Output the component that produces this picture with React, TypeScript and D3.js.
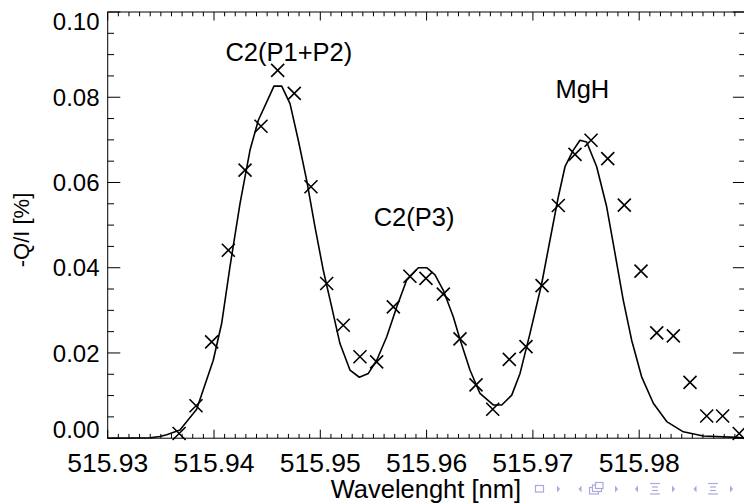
import React from "react";
import * as d3 from "d3";

// Observed data (crosses)
const obsWavelength = [
  515.93672, 515.93831, 515.93978, 515.94135, 515.94292, 515.94442, 515.94599,
  515.94755, 515.94912, 515.9506, 515.95216, 515.95373, 515.9553, 515.95687,
  515.95843, 515.95994, 515.96157, 515.96314, 515.96465, 515.96622, 515.96778,
  515.96935, 515.97086, 515.97239, 515.97396, 515.97547, 515.97704, 515.9786,
  515.98017, 515.98165, 515.98321, 515.98478, 515.98635, 515.98785, 515.98941,
];
const obsQ = [
  0.0011, 0.0076, 0.0226, 0.0441, 0.0629, 0.0732, 0.0863, 0.0809, 0.059, 0.0363,
  0.0265, 0.0191, 0.0179, 0.0308, 0.038, 0.0375, 0.0338, 0.0233, 0.0125, 0.0068,
  0.0185, 0.0215, 0.0358, 0.0546, 0.0666, 0.0699, 0.0656, 0.0547, 0.0392, 0.0247,
  0.024, 0.0131, 0.0052, 0.0052, 0.0011,
];

// Model (solid line)
const fitWavelength = [
  515.93, 515.934, 515.9349, 515.93555, 515.9368, 515.93837, 515.93993, 515.94072,
  515.9415, 515.94245, 515.94339, 515.94417, 515.94489, 515.94564, 515.94637,
  515.94715, 515.94793, 515.94872, 515.9495, 515.95028, 515.95107, 515.95185,
  515.95279, 515.95367, 515.95452, 515.95531, 515.95625, 515.95719, 515.95813,
  515.95922, 515.96001, 515.96079, 515.96157, 515.96251, 515.96314, 515.96408,
  515.96502, 515.96627, 515.96707, 515.96801, 515.96879, 515.96973, 515.97083,
  515.97161, 515.97239, 515.97302, 515.9738, 515.97443, 515.97506, 515.976,
  515.97694, 515.97772, 515.9785, 515.97929, 515.98023, 515.98133, 515.98259,
  515.98415, 515.98603, 515.98917, 515.99,
];
const fitQ = [
  0, 0.0001, 0.0004, 0.0008, 0.0019, 0.0068, 0.0183, 0.0269, 0.0402, 0.0551, 0.0676,
  0.0746, 0.0785, 0.0826, 0.0826, 0.0785, 0.0699, 0.0605, 0.0496, 0.0394, 0.0308,
  0.0222, 0.016, 0.0143, 0.0152, 0.0183, 0.0238, 0.0308, 0.0371, 0.04, 0.04, 0.0383,
  0.0347, 0.0285, 0.0232, 0.016, 0.0105, 0.0078, 0.0078, 0.0101, 0.0152, 0.0246,
  0.0363, 0.0465, 0.0566, 0.0637, 0.0676, 0.0699, 0.0695, 0.0637, 0.0543, 0.0434,
  0.0324, 0.023, 0.0144, 0.0082, 0.0039, 0.0015, 0.0005, 0.0002, 0,
];

const xTickValues = [515.93, 515.94, 515.95, 515.96, 515.97, 515.98];
const xTickLabels = ["515.93", "515.94", "515.95", "515.96", "515.97", "515.98"];
const yTickValues = [0, 0.02, 0.04, 0.06, 0.08, 0.1];
const yTickLabels = ["0.00", "0.02", "0.04", "0.06", "0.08", "0.10"];

const annotationLabels = ["C2(P1+P2)", "C2(P3)", "MgH"];
const annotationWavelength = [515.94704, 515.95882, 515.97465];
const annotationQ = [0.0885, 0.0497, 0.0798];

const W = 744;
const H = 504;
const L = 107.7;
const R = 745.5;
const T = 12;
const B = 438.2;
const FONT = "'Liberation Sans', Arial, Helvetica, sans-serif";
const NAV = "#a9a9dc";

export default function App() {
  const x = d3.scaleLinear().domain([515.93, 515.99]).range([L, R]);
  const y = d3.scaleLinear().domain([0, 0.1]).range([B, T]);

  const line = d3
    .line<number>()
    .x((_, i) => x(fitWavelength[i]))
    .y((d) => y(d))
    .curve(d3.curveLinear);

  const xMinor = d3.range(0, 61).map((i) => 515.93 + i * 0.001);
  const yMinor = d3.range(0, 21).map((i) => i * 0.005);
  const isMajorX = (i: number) => i % 10 === 0;
  const isMajorY = (i: number) => i % 4 === 0;
  const xMaj = 8.5, xMin = 4.3, yMaj = 12.6, yMin = 6.3;
  const s = 6.5;

  const tri = (cx: number, cy: number, dir: number) => {
    const w = 3, h = 3.5;
    return `M${cx - dir * w / 2},${cy - h} L${cx + dir * w / 2},${cy} L${cx - dir * w / 2},${cy + h} Z`;
  };
  const navY = 489;

  return (
    <svg
      width={W}
      height={H}
      style={{ position: "absolute", left: 0, top: 0, background: "#fff" }}
      fontFamily={FONT}
    >
      <rect x={0} y={0} width={W} height={H} fill="#fff" />
      {/* frame */}
      <rect x={L} y={T} width={R - L} height={B - T} fill="none" stroke="#000" strokeWidth={1} />
      {/* x ticks bottom & top */}
      {xMinor.map((v, i) => {
        const len = isMajorX(i) ? xMaj : xMin;
        const px = x(v);
        return (
          <g key={"xt" + i}>
            <line x1={px} x2={px} y1={B} y2={B - len} stroke="#000" strokeWidth={1} />
            <line x1={px} x2={px} y1={T} y2={T + len} stroke="#000" strokeWidth={1} />
          </g>
        );
      })}
      {/* y ticks left & right */}
      {yMinor.map((v, i) => {
        const len = isMajorY(i) ? yMaj : yMin;
        const py = y(v);
        return (
          <g key={"yt" + i}>
            <line x1={L} x2={L + len} y1={py} y2={py} stroke="#000" strokeWidth={1} />
            <line x1={R} x2={R - len} y1={py} y2={py} stroke="#000" strokeWidth={1} />
          </g>
        );
      })}
      {/* x tick labels */}
      {xTickValues.map((v, i) => (
        <text key={"xl" + i} x={x(v)} y={471.5} fontSize={26.5} textAnchor="middle" fill="#000">
          {xTickLabels[i]}
        </text>
      ))}
      {/* y tick labels */}
      {yTickValues.map((v, i) => {
        let base = y(v) + 8.6;
        if (i === 0) base = B;
        if (i === yTickValues.length - 1) base = 29.5;
        return (
          <text key={"yl" + i} x={99.5} y={base} fontSize={24} textAnchor="end" fill="#000">
            {yTickLabels[i]}
          </text>
        );
      })}
      {/* axis titles */}
      <text x={(L + 740) / 2 + 2} y={498} fontSize={25.5} textAnchor="middle" fill="#000">
        Wavelenght [nm]
      </text>
      <text
        transform={`translate(28.5,${230}) rotate(-90)`}
        fontSize={22}
        textAnchor="middle"
        fill="#000"
      >
        -Q/I [%]
      </text>
      {/* model line */}
      <path d={line(fitQ) || ""} fill="none" stroke="#000" strokeWidth={1.6} strokeLinejoin="round" />
      {/* observations */}
      {obsQ.map((q, i) => {
        const cx = x(obsWavelength[i]);
        const cy = y(q);
        return (
          <path
            key={"o" + i}
            d={`M${cx - s},${cy - s}L${cx + s},${cy + s}M${cx - s},${cy + s}L${cx + s},${cy - s}`}
            stroke="#000"
            strokeWidth={1.6}
            fill="none"
          />
        );
      })}
      {/* annotations */}
      {annotationLabels.map((t, i) => (
        <text
          key={"a" + i}
          x={x(annotationWavelength[i])}
          y={y(annotationQ[i])}
          fontSize={25.5}
          textAnchor="middle"
          fill="#000"
        >
          {t}
        </text>
      ))}
      {/* beamer navigation symbols */}
      <g fill={NAV} stroke={NAV}>
        <rect x={535.5} y={485.5} width={8} height={6.5} fill="none" strokeWidth={1.2} />
        <path d={tri(558.5, navY, 1)} stroke="none" />
        <path d={tri(580, navY, -1)} stroke="none" />
        <rect x={589.5} y={487.5} width={9} height={6.5} fill="#fff" strokeWidth={1.2} />
        <rect x={592.5} y={485} width={9} height={6.5} fill="#fff" strokeWidth={1.2} />
        <rect x={595.5} y={482.5} width={7.5} height={6} fill="#fff" strokeWidth={1.2} />
        <path d={tri(616.5, navY, 1)} stroke="none" />
        <path d={tri(636.5, navY, -1)} stroke="none" />
        <line x1={650} x2={660} y1={483.5} y2={483.5} strokeWidth={1.2} />
        <line x1={652} x2={658} y1={487} y2={487} strokeWidth={1.2} />
        <line x1={652} x2={658} y1={490.5} y2={490.5} strokeWidth={1.2} />
        <line x1={650} x2={660} y1={494} y2={494} strokeWidth={1.2} />
        <path d={tri(673.5, navY, 1)} stroke="none" />
        <path d={tri(695, navY, -1)} stroke="none" />
        <line x1={708} x2={718} y1={483.5} y2={483.5} strokeWidth={1.2} />
        <line x1={710} x2={716} y1={487} y2={487} strokeWidth={1.2} />
        <line x1={710} x2={716} y1={490.5} y2={490.5} strokeWidth={1.2} />
        <line x1={708} x2={718} y1={494} y2={494} strokeWidth={1.2} />
        <path d={tri(731.5, navY, 1)} stroke="none" />
      </g>
    </svg>
  );
}
